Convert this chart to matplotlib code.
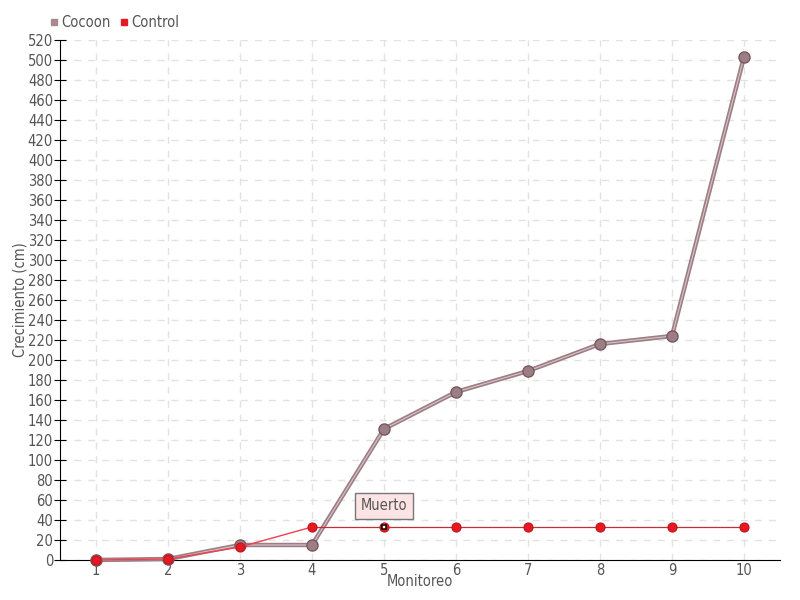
import matplotlib
matplotlib.use('Agg')
import matplotlib.pyplot as plt
from matplotlib.lines import Line2D

plt.rcParams['font.family'] = ['DejaVu Sans']
plt.rcParams['font.stretch'] = 'condensed'

monitoreo = [1, 2, 3, 4, 5, 6, 7, 8, 9, 10]
cocoon = [0, 1, 15, 15, 131, 168, 189, 216, 224, 503]
control = [0, 1, 13, 33, 33, 33, 33, 33, 33, 33]

txt = '#555555'
c_cocoon = '#9c7e84'
c_control = '#e31a22'

fig = plt.figure(figsize=(8, 6), dpi=100)
ax = fig.add_axes([60/800, 40/600, 720/800, 520/600])

# grid
ax.set_axisbelow(True)
ax.grid(True, color='#e2e2e2', linestyle=(0, (5, 5)), linewidth=1)

# cocoon: thick line with light core
ax.plot(monitoreo, cocoon, color=c_cocoon, linewidth=3.2, zorder=3, clip_on=False)
ax.plot(monitoreo, cocoon, color='#d8c4c8', linewidth=0.8, zorder=3, clip_on=False)
ax.plot(monitoreo, cocoon, 'o', color=c_cocoon, markersize=8,
        markeredgecolor='#76585e', markeredgewidth=1, zorder=4, clip_on=False)

# control
ax.plot(monitoreo[:4], control[:4], color='#f04050', linewidth=1, zorder=5, clip_on=False)
ax.plot(monitoreo[3:], control[3:], color='#c0303a', linewidth=0.9, zorder=5)
ax.plot(monitoreo, control, 'o', color=c_control, markersize=6.5,
        markeredgecolor='#c81018', markeredgewidth=0.8, zorder=6, clip_on=False)
ax.plot([5], [33], 's', color='white', markersize=3.2,
        markeredgecolor='black', markeredgewidth=1.1, zorder=7)

ax.annotate('Muerto', xy=(5, 36), xytext=(5, 54), ha='center', va='center',
            fontsize=10.5, color=txt, zorder=8,
            bbox=dict(boxstyle='square,pad=0.4', fc='#fde4e4', ec='#777777', lw=1),
            arrowprops=dict(arrowstyle='-', color='#777777', lw=0.8))

ax.set_xlim(0.5, 10.5)
ax.set_ylim(0, 520)
ax.set_xticks(monitoreo)
ax.set_yticks(range(0, 521, 20))
ax.tick_params(colors=txt, labelsize=10.5)
ax.tick_params(axis='y', direction='inout', length=8, color='black', pad=1)
ax.tick_params(axis='x', length=0, pad=2)

for s in ['top', 'right']:
    ax.spines[s].set_visible(False)
ax.spines['left'].set_color('black')
ax.spines['bottom'].set_color('black')

ax.set_xlabel('Monitoreo', color=txt, fontsize=10.5)
ax.set_ylabel('Crecimiento (cm)', color=txt, fontsize=10.5)
ax.xaxis.set_label_coords(0.5, -14/520)
ax.yaxis.set_label_coords(-32/720, 0.5)

handles = [Line2D([], [], marker='s', linestyle='', color='#a8898e', markersize=5),
           Line2D([], [], marker='s', linestyle='', color=c_control, markersize=5)]
leg = fig.legend(handles, ['Cocoon', 'Control'], loc='upper left',
                 bbox_to_anchor=(44/800, 1 - 9/600), ncol=2, frameon=False,
                 fontsize=10.5, handlelength=0.6, handletextpad=0.2,
                 columnspacing=0.6, borderaxespad=0)
for t in leg.get_texts():
    t.set_color(txt)

fig.savefig('out.png', dpi=100)
